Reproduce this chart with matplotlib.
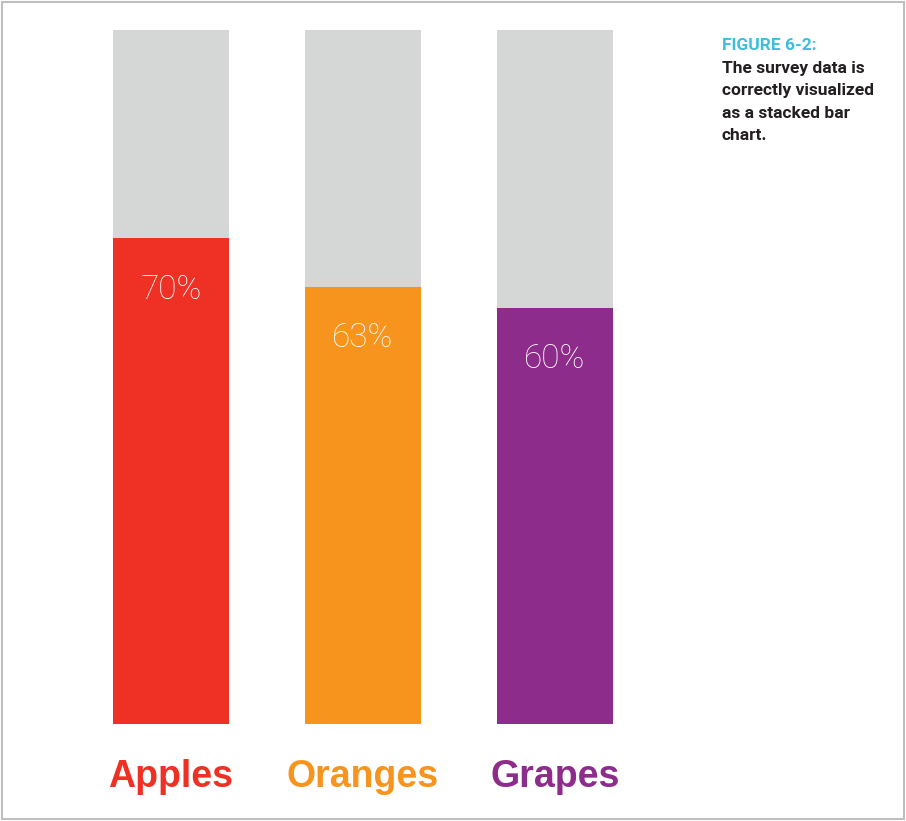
import matplotlib.pyplot as plt
from matplotlib.patches import Rectangle

# survey results: share of people who like each fruit
fruits = ["Apples", "Oranges", "Grapes"]
pct = [70, 63, 60]
colors = ["#ee3124", "#f7941d", "#8e2c8b"]
rest_color = "#d5d6d6"

caption_head = "FIGURE 6-2:"
caption_body = "The survey data is\ncorrectly visualized\nas a stacked bar\nchart."

W, H = 906, 821
fig = plt.figure(figsize=(W / 100, H / 100), dpi=100)
ax = fig.add_axes([75 / W, 97 / H, 576 / W, 694 / H])

x = range(len(fruits))
rest = [100 - p for p in pct]
ax.bar(x, pct, width=0.604, color=colors)
ax.bar(x, rest, width=0.604, bottom=pct, color=rest_color)

for i, (p, c, name) in enumerate(zip(pct, colors, fruits)):
    ax.text(i, p - 7.4, f"{p}%", ha="center", va="center", color="white",
            fontsize=24, family="Roboto", fontweight="light")
    ax.text(i, -7.7, name, ha="center", va="center", color=c,
            fontsize=27, family="Liberation Sans", fontweight="bold", clip_on=False)

ax.set_xlim(-0.5, 2.5)
ax.set_ylim(0, 100)
ax.axis("off")

# caption on the right
fig.text(722 / W, 1 - 45 / H, caption_head, color="#3dbfdc", fontsize=12.5,
         fontweight="bold", family="Roboto", va="center")
fig.text(722 / W, 1 - 61 / H, caption_body, color="#231f20", fontsize=12.5,
         fontweight="bold", family="Roboto", va="top", linespacing=1.62)

# thin frame around the page
fig.patches.append(Rectangle((1.5 / W, 2.5 / H), (W - 4) / W, (H - 4.5) / H,
                             transform=fig.transFigure, fill=False,
                             edgecolor="#bfbfbf", linewidth=1.5))

fig.savefig("out.png", dpi=100)
